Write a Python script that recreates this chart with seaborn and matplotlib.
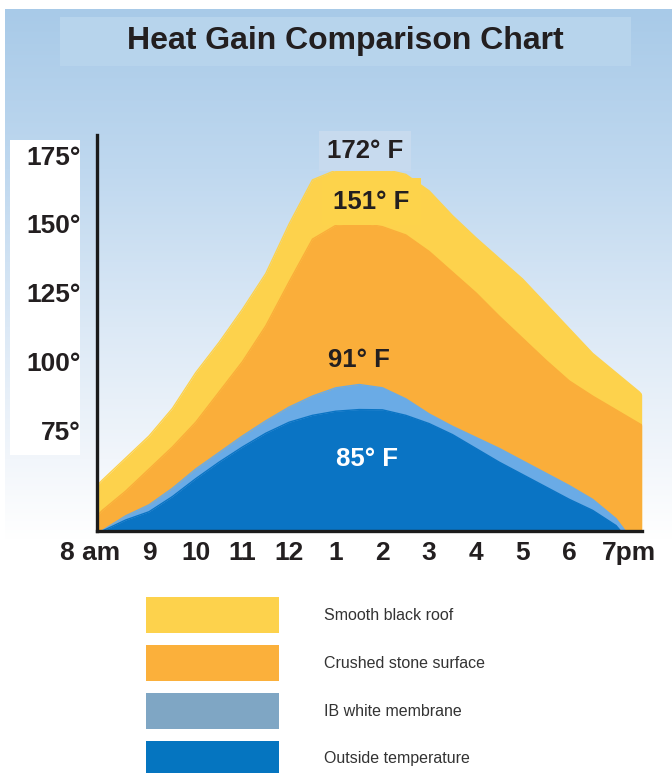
import numpy as np
import pandas as pd
import matplotlib
matplotlib.use("Agg")
import matplotlib.pyplot as plt
import matplotlib.transforms as mtransforms
from matplotlib.patches import Rectangle
from matplotlib.colors import LinearSegmentedColormap
import seaborn as sns

# ---------------- data ----------------
title = "Heat Gain Comparison Chart"
series_names = ["Smooth black roof", "Crushed stone surface",
                "IB white membrane", "Outside temperature"]

hours_roof = [7.886, 8, 8.5, 9, 9.5, 10, 10.5, 11, 11.5, 12, 12.5, 13, 13.5,
              14, 14.5, 15, 15.5, 16, 16.5, 17, 17.5, 18, 18.5, 19, 19.5, 19.55]
black_roof = [55, 57, 65, 73, 83, 96, 107, 119, 132, 150, 166, 169.5, 170.5,
              170, 168, 162, 153, 145, 137.5, 130, 121, 112, 103, 96, 89, 88]
crushed_stone = [44, 46, 53, 61, 69, 78, 89, 100, 113, 129, 144.5, 149.5, 150.5,
                 149, 146, 140, 132.5, 125, 116.5, 108.5, 100.5, 93, 87.5, 82.5, 77.5, 77]

hours_ib = [7.98, 8.5, 9, 9.5, 10, 10.5, 11, 11.5, 12, 12.5, 13, 13.5, 14,
            14.5, 15, 15.5, 16, 16.5, 17, 17.5, 18, 18.5, 19, 19.2]
ib_membrane = [38.5, 44, 48, 54, 61, 67, 73, 78.5, 83.5, 87.5, 90.5, 91.7, 90.5,
               86.5, 81, 76.5, 72.5, 68.5, 64, 59.5, 55, 50, 43, 38.5]

hours_out = [8.0, 8.5, 9, 9.5, 10, 10.5, 11, 11.5, 12, 12.5, 13, 13.5, 14,
             14.5, 15, 15.5, 16, 16.5, 17, 17.5, 18, 18.5, 19, 19.1]
outside = [38.5, 42.5, 45.5, 51, 57.5, 63.5, 69, 74, 78, 80.5, 82, 82.6, 82.5,
           80.5, 77.5, 73.5, 68.5, 63.5, 59, 54.5, 50, 46, 40.5, 38.5]

x_ticks = [8, 9, 10, 11, 12, 13, 14, 15, 16, 17, 18, 19]
x_labels = ["8 am", "9", "10", "11", "12", "1", "2", "3", "4", "5", "6", "7pm"]
y_ticks = [75, 100, 125, 150, 175]
y_labels = ["75°", "100°", "125°", "150°", "175°"]

peak_labels = ["172° F", "151° F", "91° F", "85° F"]
peak_label_pos = [(13.625, 176.5), (13.76, 158.0), (13.5, 100.5), (13.67, 64.5)]

area_colors = ["#FDD24C", "#FAAE3A", "#6AABE6", "#0A74C4"]
legend_colors = ["#FDD24C", "#FBB03B", "#7FA6C4", "#0575C0"]

# ---------------- styling ----------------
sns.set_theme(style="white")
plt.rcParams["font.family"] = ["Liberation Sans", "DejaVu Sans"]

W, H = 672, 773
fig = plt.figure(figsize=(W / 100, H / 100), dpi=100)
fig.patch.set_facecolor("white")

# background layer in pixel coordinates
bg = fig.add_axes([0, 0, 1, 1], zorder=-10)
bg.set_xlim(0, W)
bg.set_ylim(H, 0)
bg.axis("off")
cmap = LinearSegmentedColormap.from_list(
    "sky", [(0, "#A8CAE8"), (0.3, "#BFD8EF"), (0.6, "#DCE9F6"), (0.85, "#F2F6FB"), (1, "#FFFFFF")])
grad = np.linspace(0, 1, 256).reshape(-1, 1)
bg.imshow(grad, cmap=cmap, extent=[5, W, 540, 9], aspect="auto", zorder=0)
bg.add_patch(Rectangle((60, 17), 571, 49, facecolor="#B7D4EC", edgecolor="none", zorder=1))
bg.add_patch(Rectangle((10, 140), 70, 315, facecolor="white", edgecolor="none", zorder=1))
bg.add_patch(Rectangle((58, 539), 602, 38, facecolor="white", edgecolor="none", zorder=1))

fig.text(345 / W, 1 - 41 / H, title, ha="center", va="center",
         fontsize=23, fontweight="bold", color="#231F20")

# ---------------- main chart ----------------
ax = fig.add_axes([97 / W, 1 - 531 / H, (642 - 97) / W, (531 - 135) / H])
ax.patch.set_alpha(0)
base = 38.5
ax.set_xlim(7.886, 19.557)
ax.set_ylim(base, 182.3)

frames = [
    pd.DataFrame({"hour": hours_roof, "temp": black_roof}),
    pd.DataFrame({"hour": hours_roof, "temp": crushed_stone}),
    pd.DataFrame({"hour": hours_ib, "temp": ib_membrane}),
    pd.DataFrame({"hour": hours_out, "temp": outside}),
]
for i, (df, col) in enumerate(zip(frames, area_colors)):
    ax.fill_between(df["hour"], base, df["temp"], color=col, linewidth=0, zorder=1 + i * 0.1)
    sns.lineplot(data=df, x="hour", y="temp", ax=ax, color=col, linewidth=1.0,
                 zorder=1.05 + i * 0.1, legend=False)

ax.set_xlabel("")
ax.set_ylabel("")
for s in ["top", "right"]:
    ax.spines[s].set_visible(False)
for s in ["left", "bottom"]:
    ax.spines[s].set_linewidth(2.4)
    ax.spines[s].set_color("#1B1B1B")
    ax.spines[s].set_zorder(5)

ax.set_xticks(x_ticks)
ax.set_xticklabels(x_labels)
ax.set_yticks(y_ticks)
ax.set_yticklabels(y_labels)
ax.tick_params(axis="x", direction="in", length=9.5, width=2.2, pad=7,
               labelsize=19, color="#1B1B1B", labelcolor="#231F20")
ax.tick_params(axis="y", direction="out", length=9, width=2.2, pad=3,
               labelsize=19, color="#1B1B1B", labelcolor="#231F20")
for lab in ax.get_xticklabels() + ax.get_yticklabels():
    lab.set_fontweight("bold")
ax.xaxis.get_major_ticks()[0].tick1line.set_visible(False)

xl = ax.get_xticklabels()
xl[0].set_transform(xl[0].get_transform() + mtransforms.ScaledTranslation(-0.12, 0, fig.dpi_scale_trans))
xl[-1].set_transform(xl[-1].get_transform() + mtransforms.ScaledTranslation(0.13, 0, fig.dpi_scale_trans))

label_colors = ["#231F20", "#231F20", "#231F20", "white"]
label_boxes = [dict(boxstyle="square,pad=0.3", fc="#C7DAEE", ec="none"),
               dict(boxstyle="square,pad=0.45", fc="#FDD34B", ec="none"),
               None, None]
for txt, (hx, ty), c, bb in zip(peak_labels, peak_label_pos, label_colors, label_boxes):
    ax.text(hx, ty, txt, ha="center", va="center", fontsize=18.5, fontweight="bold",
            color=c, bbox=bb, zorder=10)

# ---------------- legend ----------------
for i, (name, col) in enumerate(zip(series_names, legend_colors)):
    top = 597 + i * 48
    bg.add_patch(Rectangle((146, top), 133, 36, facecolor=col, edgecolor="none", zorder=2))
    bg.text(324, top + 18, name, ha="left", va="center", fontsize=11.5, color="#333333", zorder=3)

fig.savefig("out.png", dpi=100)
